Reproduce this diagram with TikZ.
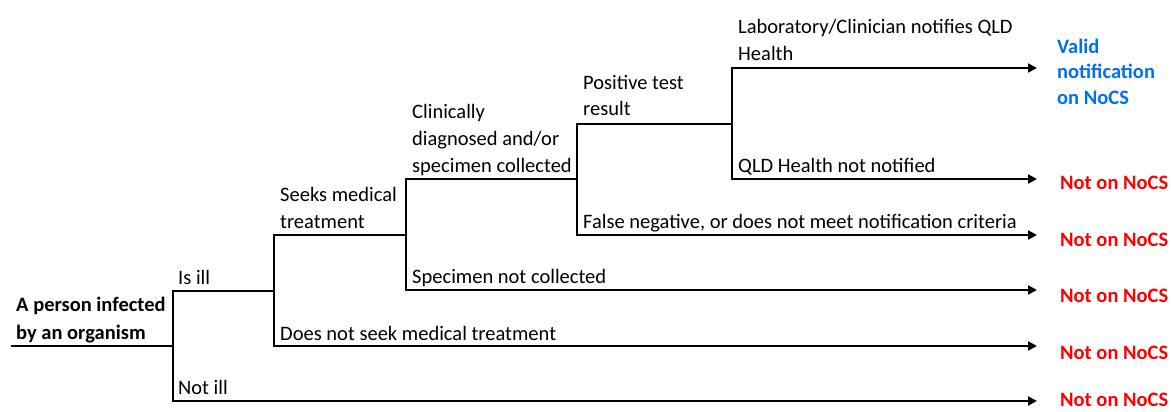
\documentclass[tikz,border=0pt]{standalone}
\usepackage{fontspec}
\setmainfont{Carlito}
\usetikzlibrary{arrows.meta}
\definecolor{okblue}{RGB}{0,112,240}
\definecolor{nocsred}{RGB}{255,0,0}
\newcommand{\lbl}[1]{\begin{tabular}[b]{@{}l@{}}#1\end{tabular}}
\begin{document}
\begin{tikzpicture}[x=1pt,y=-1pt,
  branch/.style={line width=2pt},
  outarrow/.style={line width=2pt,-{Triangle[length=9pt,width=9pt]}},
  lab/.style={anchor=base west,inner sep=0pt,font=\fontsize{20.5}{27}\selectfont},
  rootlab/.style={lab,font=\fontsize{20.5}{28}\selectfont\bfseries},
  good/.style={anchor=base west,inner sep=0pt,font=\fontsize{20.5}{25.5}\selectfont\bfseries,text=okblue},
  bad/.style={anchor=base west,inner sep=0pt,font=\fontsize{20.5}{25.5}\selectfont\bfseries,text=nocsred}]
\useasboundingbox (0,0) rectangle (1171,412);
% junctions
\coordinate (start) at (11,346);
\coordinate (J1) at (173,346);
\coordinate (J2) at (274,291);
\coordinate (J3) at (406,235);
\coordinate (J4) at (577,179);
\coordinate (J5) at (732,124);
% arrow ends
\coordinate (E1) at (1037,68);
\coordinate (E2) at (1037,179);
\coordinate (E3) at (1037,235);
\coordinate (E4) at (1037,290);
\coordinate (E5) at (1037,346);
\coordinate (E6) at (1037,401);
% tree
\draw[branch] (start) -- (J1);
\draw[branch] (J1) |- (J2);
\draw[outarrow] (J1) |- (E6);
\draw[branch] (J2) |- (J3);
\draw[outarrow] (J2) |- (E5);
\draw[branch] (J3) |- (J4);
\draw[outarrow] (J3) |- (E4);
\draw[branch] (J4) |- (J5);
\draw[outarrow] (J4) |- (E3);
\draw[outarrow] (J5) |- (E1);
\draw[outarrow] (J5) |- (E2);
% labels
\node[rootlab] (root) at (16,339) {\lbl{A person infected\\by an organism}};
\node[lab] (isill) at (178,284) {Is ill};
\node[lab] (notill) at (178,394) {Not ill};
\node[lab] (seeks) at (280,228) {\lbl{Seeks medical\\treatment}};
\node[lab] (noseek) at (280,340) {Does not seek medical treatment};
\node[lab] (clin) at (412,172) {\lbl{Clinically\\diagnosed and/or\\specimen collected}};
\node[lab] (nospec) at (412,283) {Specimen not collected};
\node[lab] (pos) at (583,116) {\lbl{Positive test\\result}};
\node[lab] (falseneg) at (583,228) {False negative, or does not meet notification criteria};
\node[lab] (notify) at (738,61) {\lbl{Laboratory/Clinician notifies QLD\\Health}};
\node[lab] (nonotify) at (738,172) {QLD Health not notified};
% outcomes
\node[good] (valid) at (1057,104) {\lbl{Valid\\notification\\on NoCS}};
\node[bad] (o2) at (1060,189) {Not on NoCS};
\node[bad] (o3) at (1060,246) {Not on NoCS};
\node[bad] (o4) at (1060,302) {Not on NoCS};
\node[bad] (o5) at (1060,359) {Not on NoCS};
\node[bad] (o6) at (1060,406) {Not on NoCS};
\end{tikzpicture}
\end{document}
